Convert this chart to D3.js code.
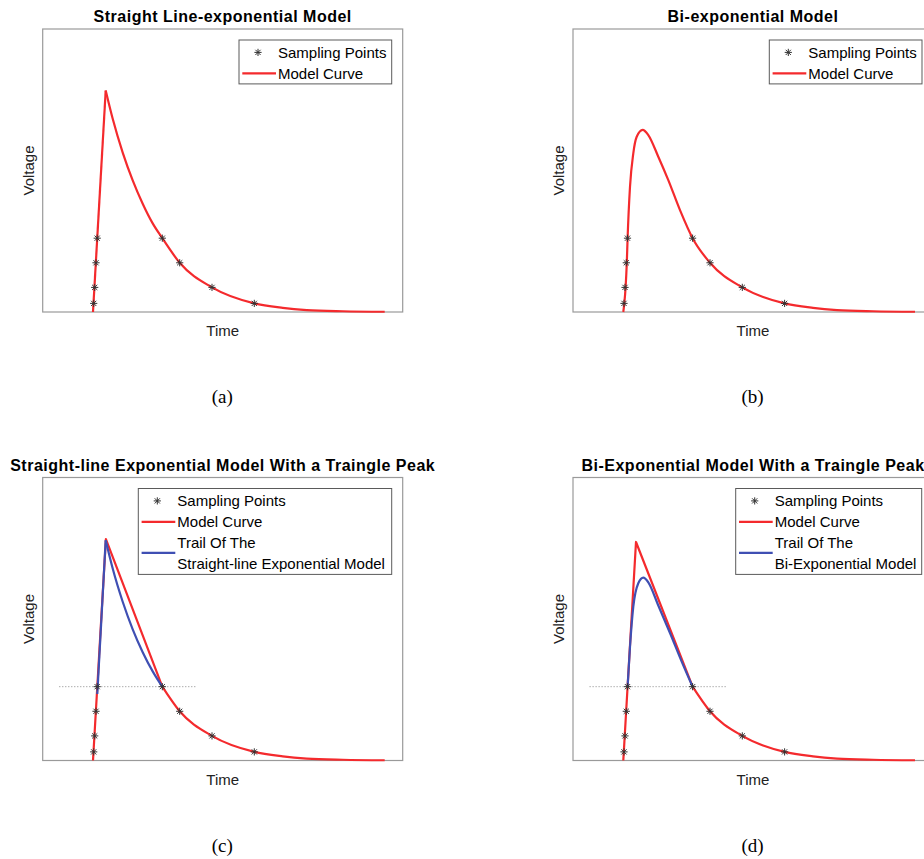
<!DOCTYPE html>
<html>
<head>
<meta charset="utf-8">
<script src="https://cdn.jsdelivr.net/npm/d3@7"></script>
<style>
body { margin: 0; background: #fff; }
</style>
</head>
<body>
<div id="chart"></div>
<script>
// values; the axes carry no ticks so the units are arbitrary
var timeDomain = [0, 36];
var voltDomain = [0, 1.15];

// the same 8 sampling points are used in all four panels
var samplingPoints = [
  [5.10, 0.035], [5.20, 0.10], [5.33, 0.20], [5.45, 0.30],
  [11.96, 0.30], [13.70, 0.20], [16.93, 0.10], [21.16, 0.035]
];

// exponential tail after the 0.3 level (shared by all model curves)
var expTail = [[11.96, 0.30], [13.70, 0.20], [16.93, 0.10], [21.16, 0.035],
  [24.0, 0.017], [26.4, 0.008], [30.0, 0.003], [34.2, 0.001]];

// (a) straight line rise + exponential decay
var slRise = [[5.03, 0], [6.30, 0.90]];
var slDecay = [[6.30, 0.90], [7.0, 0.785], [8.0, 0.648], [9.0, 0.535],
  [10.0, 0.44], [11.0, 0.36], [11.96, 0.30]];

// (b) bi-exponential
var biCurve = [[5.03, 0], [5.13, 0.035], [5.26, 0.10], [5.38, 0.20], [5.46, 0.30],
  [5.70, 0.509], [6.03, 0.645], [6.37, 0.712], [6.97, 0.740], [7.53, 0.719],
  [8.53, 0.631], [9.53, 0.536], [10.70, 0.414], [11.96, 0.30]];

// (c) triangle peak + trail of straight line model
var triSlPeak = [[5.03, 0], [6.32, 0.90], [11.96, 0.30]];
var slTrailRise = [[5.46, 0.27], [6.30, 0.895]];
var slTrailDecay = [[6.30, 0.895], [7.0, 0.78], [8.0, 0.645], [9.0, 0.533],
  [10.0, 0.44], [11.0, 0.362], [11.96, 0.30]];

// (d) triangle peak + trail of bi-exponential model
var triBiPeak = [[5.03, 0], [6.30, 0.888], [11.96, 0.30]];
var biTrail = [[5.46, 0.30], [5.70, 0.462], [6.03, 0.625], [6.53, 0.720], [7.03, 0.743],
  [7.53, 0.724], [8.53, 0.630], [9.70, 0.518], [10.87, 0.402], [11.96, 0.30]];

var thresholdLine = [[1.66, 0.30], [15.33, 0.30]];

var titles = ["Straight Line-exponential Model", "Bi-exponential Model",
  "Straight-line Exponential Model With a Traingle Peak", "Bi-Exponential Model With a Traingle Peak"];
var captions = ["(a)", "(b)", "(c)", "(d)"];

var RED = "#f42a2d", BLUE = "#3f4fb3";
var W = 360, H = 283;

var svg = d3.select("#chart").append("svg")
  .attr("width", 924).attr("height", 859)
  .style("font-family", "'Liberation Sans', Arial, sans-serif");

var x = d3.scaleLinear().domain(timeDomain).range([0, W]);
var y = d3.scaleLinear().domain(voltDomain).range([H, 0]);

var straight = d3.line().x(function(d) { return x(d[0]); }).y(function(d) { return y(d[1]); });
var smooth = d3.line().x(function(d) { return x(d[0]); }).y(function(d) { return y(d[1]); })
  .curve(d3.curveMonotoneX);

var panels = [
  {x: 42.7, y: 29, legendX: 196.3, legendW: 152.7, threshold: false,
   lines: [{d: slRise, c: RED, f: straight}, {d: slDecay.concat(expTail.slice(1)), c: RED, f: smooth}],
   entries: [["Model Curve"]]},
  {x: 573, y: 29, legendX: 196.3, legendW: 152.7, threshold: false,
   lines: [{d: biCurve.concat(expTail.slice(1)), c: RED, f: smooth}],
   entries: [["Model Curve"]]},
  {x: 42.7, y: 477.5, legendX: 95.6, legendW: 253.4, threshold: true,
   lines: [{d: triSlPeak, c: RED, f: straight}, {d: expTail, c: RED, f: smooth},
           {d: slTrailRise, c: BLUE, f: straight}, {d: slTrailDecay, c: BLUE, f: smooth}],
   entries: [["Model Curve"], ["Trail Of The", "Straight-line Exponential Model"]]},
  {x: 573, y: 477.5, legendX: 162.7, legendW: 186, threshold: true,
   lines: [{d: triBiPeak, c: RED, f: straight}, {d: expTail, c: RED, f: smooth},
           {d: biTrail, c: BLUE, f: smooth}],
   entries: [["Model Curve"], ["Trail Of The", "Bi-Exponential Model"]]}
];

// asterisk like matlab's '*' marker
function star(r) {
  var a = r * 0.72;
  return "M" + (-r) + ",0L" + r + ",0M0," + (-r) + "L0," + r +
    "M" + (-a) + "," + (-a) + "L" + a + "," + a + "M" + (-a) + "," + a + "L" + a + "," + (-a);
}

panels.forEach(function(p, i) {
  var g = svg.append("g").attr("transform", "translate(" + p.x + "," + p.y + ")");

  g.append("rect").attr("width", W).attr("height", H)
    .attr("fill", "#fff").attr("stroke", "#9a9a9a").attr("stroke-width", 1.2);

  if (p.threshold) {
    g.append("path").attr("d", straight(thresholdLine))
      .attr("fill", "none").attr("stroke", "#888").attr("stroke-width", 1)
      .attr("stroke-dasharray", "1,2");
  }

  p.lines.forEach(function(l) {
    g.append("path").attr("d", l.f(l.d))
      .attr("fill", "none").attr("stroke", l.c).attr("stroke-width", 2.2)
      .attr("stroke-linejoin", "round");
  });

  g.selectAll(".pt").data(samplingPoints).enter().append("path")
    .attr("transform", function(d) { return "translate(" + x(d[0]) + "," + y(d[1]) + ")"; })
    .attr("d", star(3.6)).attr("stroke", "#333").attr("stroke-width", 1).attr("fill", "none");

  // titles and labels
  g.append("text").attr("x", W / 2).attr("y", -7).attr("text-anchor", "middle")
    .attr("font-size", 16).attr("letter-spacing", 0.5).attr("font-weight", "bold").text(titles[i]);
  g.append("text").attr("x", W / 2).attr("y", H + 24).attr("text-anchor", "middle")
    .attr("font-size", 15).attr("fill", "#222").text("Time");
  g.append("text").attr("transform", "translate(-9," + (H / 2) + ") rotate(-90)")
    .attr("text-anchor", "middle").attr("font-size", 15).attr("fill", "#222").text("Voltage");
  g.append("text").attr("x", W / 2 - 0.5).attr("y", H + 91).attr("text-anchor", "middle")
    .attr("font-family", "'Liberation Serif', 'Times New Roman', serif")
    .attr("font-size", 19).text(captions[i]);

  // legend
  var rows = 1 + d3.sum(p.entries, function(e) { return e.length; });
  var lg = g.append("g").attr("transform", "translate(" + p.legendX + ",11)");
  lg.append("rect").attr("width", p.legendW).attr("height", 12.4 + 21 * (rows - 1) + 10.5)
    .attr("fill", "#fff").attr("stroke", "#5a5a5a").attr("stroke-width", 1);
  lg.append("path").attr("transform", "translate(19,12.4)").attr("d", star(3.6))
    .attr("stroke", "#333").attr("stroke-width", 1).attr("fill", "none");
  lg.append("text").attr("x", 39).attr("y", 12.4).attr("dy", "0.35em")
    .attr("font-size", 15).text("Sampling Points");
  var row = 1;
  p.entries.forEach(function(e, k) {
    var cy = 12.4 + 21 * (row + (e.length - 1) / 2) - (e.length > 1 ? 0.6 : 0);
    lg.append("line").attr("x1", 3.3).attr("x2", 37).attr("y1", cy).attr("y2", cy)
      .attr("stroke", k === 0 ? RED : BLUE).attr("stroke-width", 2.2);
    e.forEach(function(t) {
      lg.append("text").attr("x", 39).attr("y", 12.4 + 21 * row).attr("dy", "0.35em")
        .attr("font-size", 15).text(t);
      row++;
    });
  });
});
</script>
</body>
</html>
